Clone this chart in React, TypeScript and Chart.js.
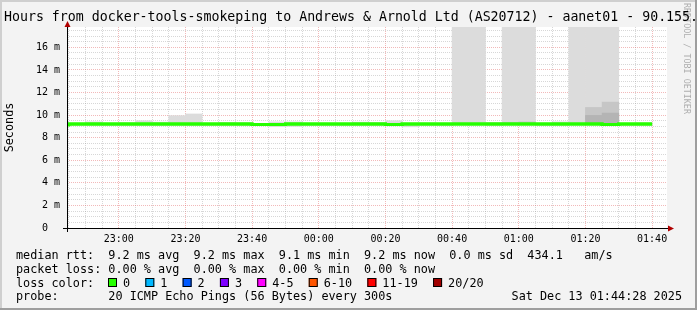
import React, { useEffect, useRef } from 'react';
import { Chart, registerables } from 'chart.js';

Chart.register(...registerables);

const TITLE = 'Hours from docker-tools-smokeping to Andrews & Arnold Ltd (AS20712) - aanet01 - 90.155.';
const Y_LABEL = 'Seconds';
const WATERMARK = 'RRDTOOL / TOBI OETIKER';

const windowStart = '22:44:28';
const windowEnd = '01:44:28';
const binMinutes = 5;

// 5-minute bins (start time)
const binStart = [
  '22:40', '22:45', '22:50', '22:55', '23:00', '23:05', '23:10', '23:15', '23:20', '23:25',
  '23:30', '23:35', '23:40', '23:45', '23:50', '23:55', '00:00', '00:05', '00:10', '00:15',
  '00:20', '00:25', '00:30', '00:35', '00:40', '00:45', '00:50', '00:55', '01:00', '01:05',
  '01:10', '01:15', '01:20', '01:25', '01:30', '01:35',
];
// median rtt, ms
const medianMs = [
  9.15, 9.15, 9.2, 9.2, 9.2, 9.2, 9.2, 9.2, 9.2, 9.2,
  9.2, 9.2, 9.2, 9.17, 9.17, 9.2, 9.2, 9.2, 9.2, 9.2,
  9.2, 9.17, 9.2, 9.2, 9.2, 9.2, 9.2, 9.2, 9.2, 9.2,
  9.2, 9.2, 9.2, 9.2, 9.17, 9.2,
];
// smoke: full ping range (ms)
const smokeOuterLow = [
  9.1, 9.1, 9.1, 9.1, 9.1, 9.1, 9.1, 9.1, 9.1, 9.1,
  9.1, 9.1, 9.1, 8.98, 9.0, 9.1, 9.1, 9.1, 9.1, 9.1,
  9.05, 8.96, 9.1, 9.1, 9.15, 9.15, 9.1, 9.15, 9.15, 9.1,
  9.1, 9.15, 9.15, 9.15, 9.1, 9.1,
];
const smokeOuterHigh = [
  9.25, 9.25, 9.4, 9.25, 9.32, 9.5, 9.38, 9.95, 10.1, 9.27,
  9.35, 9.33, 9.25, 9.4, 9.4, 9.25, 9.25, 9.25, 9.38, 9.35,
  9.5, 9.25, 9.28, 9.25, 20, 20, 9.35, 20, 20, 9.28,
  9.4, 20, 20, 20, 9.2, 9.3,
];
// smoke: middle band (ms)
const smokeMidLow = [
  null, null, null, null, null, null, null, null, null, null,
  null, null, null, null, null, null, null, null, null, null,
  null, null, null, null, null, null, null, 9.15, 9.15, null,
  null, null, 9.15, 9.15, null, null,
];
const smokeMidHigh = [
  null, null, null, null, null, null, null, null, null, null,
  null, null, null, null, null, null, null, null, null, null,
  null, null, null, null, null, null, null, 9.35, 9.4, null,
  null, null, 10.68, 11.15, null, null,
];
// smoke: inner band (ms)
const smokeInnerLow = [
  null, null, null, null, null, null, null, null, null, null,
  null, null, null, null, null, null, null, null, null, null,
  null, null, null, null, null, null, null, null, null, null,
  null, null, 9.15, 9.15, null, null,
];
const smokeInnerHigh = [
  null, null, null, null, null, null, null, null, null, null,
  null, null, null, null, null, null, null, null, null, null,
  null, null, null, null, null, null, null, null, null, null,
  null, null, 9.97, 10.18, null, null,
];

const yMaxMs = 17.8;
const yGridStep = 0.5;
const yLabelStep = 2;
const xGridStep = 5;
const xLabelStep = 20;

const legendRows = [
  'median rtt:  9.2 ms avg  9.2 ms max  9.1 ms min  9.2 ms now  0.0 ms sd  434.1   am/s',
  'packet loss: 0.00 % avg  0.00 % max  0.00 % min  0.00 % now',
];
const lossTitle = 'loss color:';
const lossLabels = ['0', '1', '2', '3', '4-5', '6-10', '11-19', '20/20'];
const lossColors = ['#26ff00', '#00b8ff', '#0059ff', '#7e00ff', '#ff00ff', '#ff5500', '#ff0000', '#a10000'];
const probeText = 'probe:       20 ICMP Echo Pings (56 Bytes) every 300s';
const stampText = 'Sat Dec 13 01:44:28 2025';

const MONO = '"DejaVu Sans Mono", monospace';

function toMin(s: string): number {
  const parts = s.split(':').map(Number);
  let t = parts[0] * 60 + parts[1] + (parts[2] || 0) / 60 - 22 * 60;
  if (t < 0) t += 1440;
  return t;
}
function fmtMin(v: number): string {
  const total = Math.round(22 * 60 + v) % 1440;
  const h = Math.floor(total / 60);
  const m = total % 60;
  return String(h).padStart(2, '0') + ':' + String(m).padStart(2, '0');
}

const X0 = toMin(windowStart);
const X1 = toMin(windowEnd) < X0 ? toMin(windowEnd) + 1440 : toMin(windowEnd);

function bars(lo: (number | null)[], hi: (number | null)[]) {
  const out: { x: number; y: [number, number] }[] = [];
  binStart.forEach((t, i) => {
    const a = lo[i];
    const b = hi[i];
    if (a == null || b == null) return;
    out.push({ x: toMin(t) + binMinutes / 2, y: [a, b] });
  });
  return out;
}

const medianPoints = binStart.map((t, i) => ({ x: toMin(t), y: medianMs[i] }));
medianPoints.push({ x: toMin(binStart[binStart.length - 1]) + binMinutes, y: medianMs[medianMs.length - 1] });

const GRID_MINOR = 'rgba(143,143,143,0.36)';
const GRID_MAJOR = 'rgba(222,80,80,0.4)';

const rrdPlugin = {
  id: 'rrdDecor',
  beforeDraw(chart: any) {
    const { ctx, width, height, chartArea: a } = chart;
    ctx.save();
    ctx.fillStyle = '#f3f3f3';
    ctx.fillRect(0, 0, width, height);
    ctx.fillStyle = '#cfcfcf';
    ctx.fillRect(0, 0, width, 2);
    ctx.fillRect(0, 0, 2, height);
    ctx.fillStyle = '#9e9e9e';
    ctx.fillRect(0, height - 2, width, 2);
    ctx.fillRect(width - 2, 0, 2, height);
    ctx.fillStyle = '#ffffff';
    ctx.fillRect(a.left, a.top, a.right - a.left, a.bottom - a.top);
    ctx.restore();
  },
  afterDraw(chart: any) {
    const { ctx, chartArea: a } = chart;
    // median line above the grid
    ctx.save();
    ctx.beginPath();
    ctx.rect(a.left, a.top, a.right - a.left, a.bottom - a.top);
    ctx.clip();
    chart.getDatasetMeta(0).controller.draw();
    ctx.restore();

    ctx.save();
    // axes
    ctx.strokeStyle = '#000000';
    ctx.lineWidth = 1;
    ctx.beginPath();
    ctx.moveTo(a.left - 4, a.bottom + 0.5);
    ctx.lineTo(a.right + 2, a.bottom + 0.5);
    ctx.moveTo(a.left + 0.5, a.bottom + 4);
    ctx.lineTo(a.left + 0.5, a.top - 2);
    ctx.stroke();
    ctx.fillStyle = '#b00000';
    ctx.beginPath();
    ctx.moveTo(a.right + 1, a.bottom - 2.5);
    ctx.lineTo(a.right + 7, a.bottom + 0.5);
    ctx.lineTo(a.right + 1, a.bottom + 3.5);
    ctx.closePath();
    ctx.fill();
    ctx.beginPath();
    ctx.moveTo(a.left - 2.5, a.top);
    ctx.lineTo(a.left + 0.5, a.top - 6);
    ctx.lineTo(a.left + 3.5, a.top);
    ctx.closePath();
    ctx.fill();

    // watermark
    ctx.save();
    ctx.translate(686, 3);
    ctx.rotate(Math.PI / 2);
    ctx.font = '8.4px ' + MONO;
    ctx.fillStyle = 'rgba(0,0,0,0.3)';
    ctx.textBaseline = 'middle';
    ctx.textAlign = 'left';
    ctx.fillText(WATERMARK, 0, 0);
    ctx.restore();

    // title
    ctx.fillStyle = '#000000';
    ctx.textBaseline = 'alphabetic';
    ctx.textAlign = 'left';
    ctx.font = '13.25px ' + MONO;
    ctx.fillText(TITLE, 4, 21);

    // y-axis label
    ctx.save();
    ctx.translate(10, (a.top + a.bottom) / 2);
    ctx.rotate(-Math.PI / 2);
    ctx.font = '11.8px ' + MONO;
    ctx.textAlign = 'center';
    ctx.textBaseline = 'middle';
    ctx.fillText(Y_LABEL, 0, 0);
    ctx.restore();

    // legend
    ctx.font = '11.8px ' + MONO;
    ctx.textAlign = 'left';
    ctx.textBaseline = 'alphabetic';
    const rowY = [258.5, 272.5, 286.5, 300.3];
    ctx.fillText(legendRows[0], 16, rowY[0]);
    ctx.fillText(legendRows[1], 16, rowY[1]);
    ctx.fillText(lossTitle, 16, rowY[2]);
    let bx = 108;
    lossLabels.forEach((lab, i) => {
      ctx.fillStyle = lossColors[i];
      ctx.fillRect(bx, rowY[2] - 8.5, 9, 9);
      ctx.strokeStyle = '#000000';
      ctx.strokeRect(bx + 0.5, rowY[2] - 8, 8, 8);
      ctx.fillStyle = '#000000';
      const lx = bx + 15;
      ctx.fillText(lab, lx, rowY[2]);
      bx = lx + ctx.measureText(lab + '  ').width + 1;
    });
    ctx.fillText(probeText, 16, rowY[3]);
    ctx.textAlign = 'right';
    ctx.fillText(stampText, 682, rowY[3]);
    ctx.restore();
  },
};

export default function App() {
  const ref = useRef<HTMLCanvasElement>(null);
  useEffect(() => {
    const canvas = ref.current;
    if (!canvas) return;
    const xTicks: number[] = [];
    for (let v = Math.ceil(X0 / xGridStep) * xGridStep; v <= X1; v += xGridStep) xTicks.push(v);
    const yTicks: number[] = [];
    for (let v = 0; v < yMaxMs; v += yGridStep) yTicks.push(Math.round(v * 10) / 10);

    const chart = new Chart(canvas, {
      type: 'line',
      data: {
        datasets: [
          {
            type: 'line',
            data: medianPoints,
            borderColor: '#26ff00',
            borderWidth: 3,
            stepped: 'after',
            pointRadius: 0,
            fill: false,
            order: 0,
            borderCapStyle: 'butt',
          } as any,
          {
            type: 'bar',
            data: bars(smokeOuterLow, smokeOuterHigh),
            backgroundColor: '#dcdcdc',
            borderWidth: 0,
            grouped: false,
            barPercentage: 1,
            categoryPercentage: 1,
            order: 3,
          } as any,
          {
            type: 'bar',
            data: bars(smokeMidLow, smokeMidHigh),
            backgroundColor: '#c6c6c6',
            borderWidth: 0,
            grouped: false,
            barPercentage: 1,
            categoryPercentage: 1,
            order: 2,
          } as any,
          {
            type: 'bar',
            data: bars(smokeInnerLow, smokeInnerHigh),
            backgroundColor: '#b4b4b4',
            borderWidth: 0,
            grouped: false,
            barPercentage: 1,
            categoryPercentage: 1,
            order: 1,
          } as any,
        ],
      },
      options: {
        responsive: false,
        animation: false,
        devicePixelRatio: 1,
        layout: { padding: { left: 0, top: 27, right: 30, bottom: 0 } },
        plugins: { legend: { display: false }, tooltip: { enabled: false }, title: { display: false } },
        events: [],
        scales: {
          x: {
            type: 'linear',
            min: X0,
            max: X1,
            offset: false,
            z: 1,
            afterBuildTicks: (s: any) => { s.ticks = xTicks.map((v) => ({ value: v })); },
            afterFit: (s: any) => { s.height = 82; },
            ticks: {
              autoSkip: false,
              maxRotation: 0,
              minRotation: 0,
              padding: 5,
              color: '#000000',
              font: { family: MONO, size: 10 },
              callback: (v: any) => (Math.round(v) % xLabelStep === 0 ? fmtMin(v) : ''),
            },
            grid: {
              offset: false,
              drawTicks: false,
              lineWidth: 1,
              color: (c: any) => (c.tick && Math.round(c.tick.value) % xLabelStep === 0 ? GRID_MAJOR : GRID_MINOR),
            },
            border: { display: false, dash: [1, 1] },
          },
          y: {
            type: 'linear',
            min: 0,
            max: yMaxMs,
            z: 1,
            afterBuildTicks: (s: any) => { s.ticks = yTicks.map((v) => ({ value: v })); },
            afterFit: (s: any) => { s.width = 67; },
            ticks: {
              autoSkip: false,
              padding: 7,
              color: '#000000',
              font: { family: MONO, size: 10 },
              callback: (v: any) => {
                const n = Math.round(v * 10) / 10;
                if (n % yLabelStep !== 0) return '';
                return n === 0 ? '0  ' : n + ' m';
              },
            },
            grid: {
              drawTicks: false,
              lineWidth: 1,
              color: (c: any) => {
                const n = c.tick ? Math.round(c.tick.value * 10) / 10 : 1;
                return n % yLabelStep === 0 ? GRID_MAJOR : GRID_MINOR;
              },
            },
            border: { display: false, dash: [1, 1] },
          },
        },
      } as any,
      plugins: [rrdPlugin],
    });
    return () => chart.destroy();
  }, []);
  return (
    <div style={{ position: 'fixed', left: 0, top: 0, width: 697, height: 310 }}>
      <canvas ref={ref} width={697} height={310} style={{ display: 'block', width: 697, height: 310 }} />
    </div>
  );
}
